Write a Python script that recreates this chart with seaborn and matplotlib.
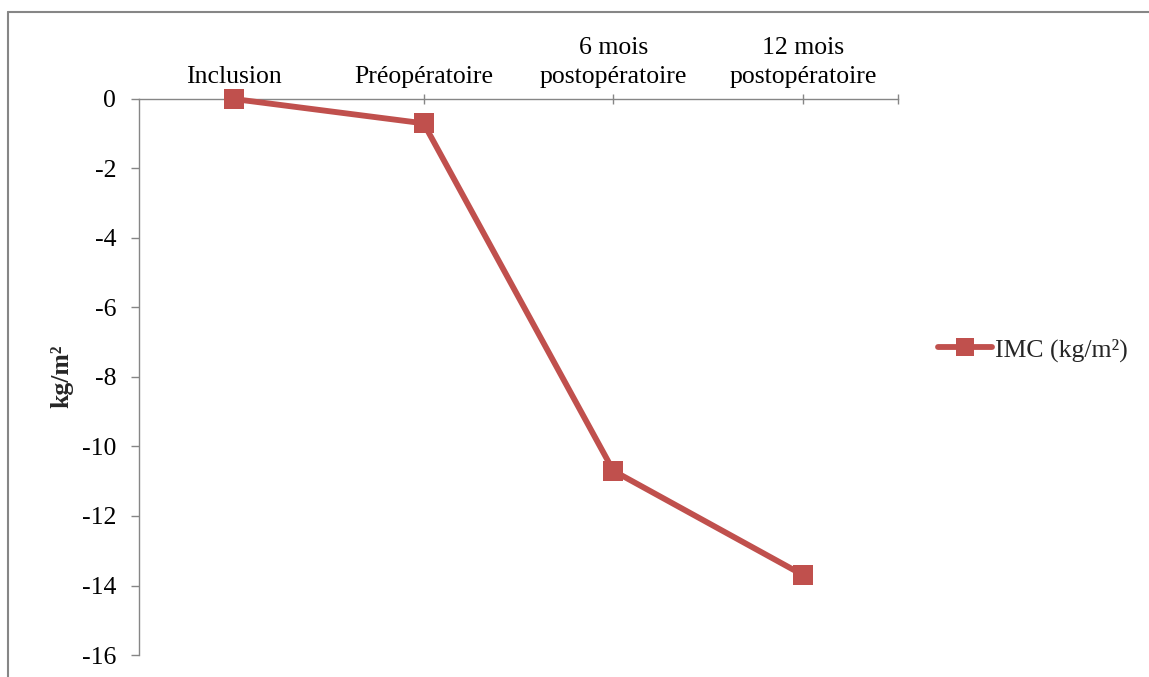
import matplotlib
matplotlib.use("Agg")
import matplotlib.pyplot as plt
from matplotlib.lines import Line2D
import seaborn as sns
import pandas as pd

# Change in BMI relative to inclusion, per visit
visits = ["Inclusion", "Préopératoire", "6 mois\npostopératoire", "12 mois\npostopératoire"]
imc_change = [0.0, -0.7, -10.7, -13.7]
series_label = "IMC (kg/m²)"
y_ticks = [0, -2, -4, -6, -8, -10, -12, -14, -16]

df = pd.DataFrame({"visit": visits, "imc": imc_change, "series": series_label})

sns.set_theme(style="white")
plt.rcParams["font.family"] = ["Liberation Serif", "DejaVu Serif"]

W, H = 1149, 677
fig = plt.figure(figsize=(W / 100, H / 100), dpi=100)
ax = fig.add_axes([139 / W, 1 - 655 / H, (898 - 139) / W, (655 - 99) / H])

red = "#C0504D"
grey = "#868686"

sns.lineplot(data=df, x="visit", y="imc", hue="series", palette=[red],
             marker="s", markersize=14, markeredgewidth=0, linewidth=4.2,
             sort=False, ax=ax, clip_on=False, zorder=5)

ax.set_xlim(-0.5, 3.5)
ax.set_ylim(-16, 0)

# category axis sits along y = 0, labels above it
ax.xaxis.tick_top()
ax.set_xticks([0, 1, 2, 3, 3.5])
ax.set_xticklabels(visits + [""], fontsize=18.5, color="black", linespacing=1.45)
ax.tick_params(axis="x", direction="inout", length=7.5, width=1.0, color=grey, pad=4,
               top=True, bottom=False)
ax.set_yticks(y_ticks)
ax.set_yticklabels([str(v) for v in y_ticks], fontsize=18.5, color="black")
ax.tick_params(axis="y", direction="out", length=5.5, width=1.0, color=grey, pad=11,
               left=True)

for side in ["right", "bottom"]:
    ax.spines[side].set_visible(False)
for side in ["left", "top"]:
    ax.spines[side].set_color(grey)
    ax.spines[side].set_linewidth(1.0)

ax.set_xlabel("")
ax.set_ylabel("")
fig.text(62 / W, 1 - 376 / H, "kg/m²", rotation=90, fontsize=18.5,
         fontweight="bold", ha="center", va="center")

leg = ax.legend(loc="center left", bbox_to_anchor=(938 / W, 1 - 350 / H),
                bbox_transform=fig.transFigure, frameon=False, fontsize=18.5,
                handlelength=2.1, handletextpad=0.1, borderpad=0, borderaxespad=0)
for h in leg.legend_handles:
    h.set_markersize(13)

# chart-area border (top and left edges)
fig.add_artist(Line2D([8 / W, 1.0], [1 - 12 / H, 1 - 12 / H], color=grey, lw=1.5,
                      transform=fig.transFigure))
fig.add_artist(Line2D([8 / W, 8 / W], [0, 1 - 12 / H], color=grey, lw=1.5,
                      transform=fig.transFigure))

fig.savefig("out.png", dpi=100)
